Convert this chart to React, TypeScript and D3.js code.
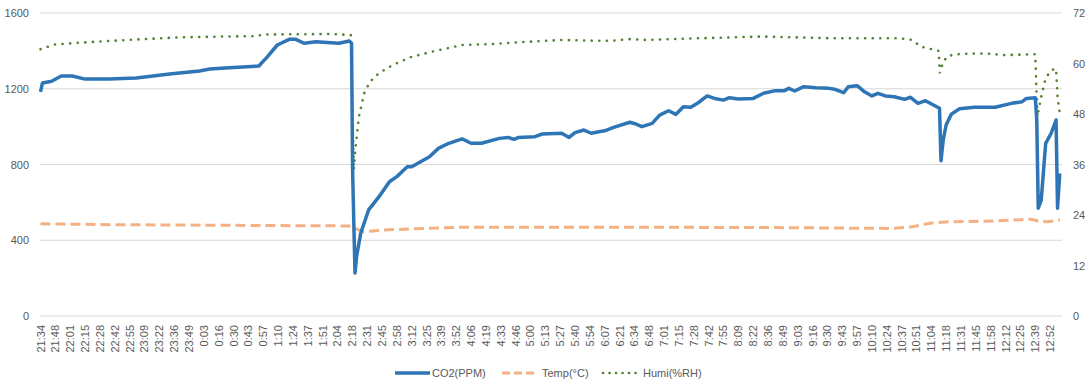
import React from 'react';
import * as d3 from 'd3';

const xLabels = [
  '21:34', '21:48', '22:01', '22:15', '22:28', '22:42', '22:55', '23:09', '23:22', '23:36',
  '23:49', '0:03', '0:16', '0:30', '0:43', '0:57', '1:10', '1:24', '1:37', '1:51',
  '2:04', '2:18', '2:31', '2:45', '2:58', '3:12', '3:25', '3:39', '3:52', '4:06',
  '4:19', '4:33', '4:46', '5:00', '5:13', '5:27', '5:40', '5:54', '6:07', '6:21',
  '6:34', '6:48', '7:01', '7:15', '7:28', '7:42', '7:55', '8:09', '8:22', '8:36',
  '8:49', '9:03', '9:16', '9:30', '9:43', '9:57', '10:10', '10:24', '10:37', '10:51',
  '11:04', '11:18', '11:31', '11:45', '11:58', '12:12', '12:25', '12:39', '12:52',
];

const leftTicks = [0, 400, 800, 1200, 1600];
const rightTicks = [0, 12, 24, 36, 48, 60, 72];

// [position on category axis (fractional label index), value]
const co2: [number, number][] = [
  [0, 1183], [0.13, 1230], [0.75, 1240], [1.4, 1267], [2.15, 1267], [3, 1251], [4.6, 1251],
  [6.45, 1257], [8.7, 1278], [10.7, 1294], [11.4, 1304], [12.7, 1311], [14.7, 1320], [15.2, 1362],
  [15.95, 1431], [16.75, 1461], [17.2, 1461], [17.75, 1440], [18.55, 1448], [20.1, 1440],
  [20.8, 1452], [20.95, 1440], [21.02, 771], [21.18, 227], [21.3, 320], [21.57, 438], [22.1, 560],
  [22.8, 630], [23.5, 709], [24, 736], [24.7, 788], [25, 788], [25.6, 815], [26.2, 841],
  [26.8, 885], [27.5, 912], [28.4, 935], [29, 912], [29.7, 912], [30.9, 938], [31.5, 943],
  [31.9, 933], [32.2, 943], [33.3, 947], [33.8, 961], [35.1, 965], [35.6, 943], [36, 968],
  [36.6, 982], [37.1, 965], [37.6, 973], [38, 978], [38.6, 996], [39.7, 1023], [40.1, 1014],
  [40.5, 1000], [41.2, 1017], [41.7, 1061], [42.3, 1084], [42.8, 1065], [43.3, 1105],
  [43.8, 1102], [44.3, 1126], [44.9, 1162], [45.4, 1149], [46, 1140], [46.4, 1153], [47, 1146],
  [48, 1149], [48.7, 1176], [49.5, 1190], [50.1, 1190], [50.4, 1202], [50.8, 1188],
  [51.4, 1211], [52.2, 1205], [53.1, 1202], [53.5, 1197], [54.1, 1179], [54.4, 1211],
  [55, 1216], [55.5, 1184], [56, 1162], [56.4, 1176], [56.9, 1162], [57.5, 1158], [58.2, 1144],
  [58.6, 1155], [59.1, 1123], [59.6, 1137], [60.55, 1097], [60.65, 820], [60.8, 930],
  [61, 1010], [61.35, 1066], [61.9, 1094], [62.9, 1102], [64.3, 1102], [65.4, 1123],
  [66.1, 1131], [66.4, 1149], [67, 1153], [67.1, 1035], [67.2, 569], [67.4, 612], [67.7, 912],
  [68.07, 965], [68.4, 1035], [68.5, 569], [68.65, 753],
];

const temp: [number, number][] = [
  [0, 21.9], [5, 21.7], [10, 21.6], [15, 21.5], [20.9, 21.4], [21.2, 20.8], [21.75, 20.0],
  [23, 20.4], [24.9, 20.7], [28.4, 21.1], [40, 21.1], [50, 21.0], [57.3, 20.8], [58.7, 21.2],
  [60, 22.1], [61.3, 22.4], [64.5, 22.6], [66.7, 23.0], [67.3, 22.5], [67.8, 22.4], [68.65, 22.8],
];

const humi: [number, number][] = [
  [0, 63.4], [0.5, 64.0], [0.95, 64.5], [2.4, 64.9], [4.85, 65.4], [6.4, 65.7], [9.3, 66.2],
  [12.2, 66.4], [14.5, 66.5], [15, 66.9], [19.5, 67.0], [20.9, 66.8], [21.1, 34.7], [21.2, 39.4],
  [21.35, 44.2], [21.45, 47.4], [21.57, 49.3], [21.8, 52.9], [22.2, 55.7], [22.8, 57.7],
  [23.7, 59.6], [25, 61.6], [26.6, 63.0], [28.4, 64.4], [30.4, 64.6], [32, 65.0], [35.1, 65.6],
  [37.4, 65.4], [38.5, 65.4], [39.6, 65.8], [40.8, 65.6], [44.4, 66.0], [48.6, 66.4],
  [53.4, 66.0], [57.8, 66.0], [58.7, 65.6], [59.3, 64.0], [60.5, 63.0], [60.57, 57.7],
  [60.8, 60.4], [61.1, 61.8], [62, 62.3], [63.6, 62.4], [64.9, 62.0], [67, 62.2], [67.07, 54.5],
  [67.15, 47.4], [67.4, 52.1], [67.7, 56.5], [68.07, 58.4], [68.4, 58.8], [68.5, 52.1],
  [68.65, 48.2],
];

const W = 1090;
const H = 387;
const font = '"Liberation Sans", Arial, sans-serif';
const textColor = '#595959';

export default function App() {
  const x = d3.scaleLinear().domain([0, 68.8]).range([40.5, 1062]);
  const yL = d3.scaleLinear().domain([0, 1600]).range([316, 13]);
  const yR = d3.scaleLinear().domain([0, 72]).range([316, 13]);

  const lineL = d3.line<[number, number]>().x(d => x(d[0])).y(d => yL(d[1]));
  const lineR = d3.line<[number, number]>().x(d => x(d[0])).y(d => yR(d[1]));

  const legendY = 373;

  return (
    <svg width={W} height={H} style={{ position: 'absolute', left: 0, top: 0, background: '#fff' }}>
      <g>
        {leftTicks.map(t => (
          <line key={t} x1={40} x2={1062} y1={yL(t)} y2={yL(t)} stroke="#d9d9d9" strokeWidth={1} />
        ))}
      </g>
      <g fontFamily={font} fontSize={11} fill={textColor}>
        {leftTicks.map(t => (
          <text key={t} x={29} y={yL(t)} textAnchor="end" dominantBaseline="central">{t}</text>
        ))}
        {rightTicks.map(t => (
          <text key={t} x={1073} y={yR(t)} textAnchor="start" dominantBaseline="central">{t}</text>
        ))}
        {xLabels.map((l, i) => (
          <text
            key={i}
            transform={`translate(${x(i)},325) rotate(-90)`}
            textAnchor="end"
            dominantBaseline="central"
          >
            {l}
          </text>
        ))}
      </g>
      <path d={lineR(temp) ?? ''} fill="none" stroke="#f4b183" strokeWidth={3} strokeDasharray="10 5" />
      <path
        d={lineR(humi) ?? ''}
        fill="none"
        stroke="#548235"
        strokeWidth={2.6}
        strokeDasharray="0.1 7.5"
        strokeLinecap="round"
      />
      <path d={lineL(co2) ?? ''} fill="none" stroke="#2e75b6" strokeWidth={3.5} strokeLinejoin="round" />

      <g fontFamily={font} fontSize={11} fill={textColor}>
        <line x1={395} x2={430} y1={legendY} y2={legendY} stroke="#2e75b6" strokeWidth={3.5} />
        <text x={432} y={legendY} dominantBaseline="central">CO2(PPM)</text>
        <line x1={502} x2={535} y1={legendY} y2={legendY} stroke="#f4b183" strokeWidth={3} strokeDasharray="8 4" />
        <text x={542} y={legendY} dominantBaseline="central">Temp(°C)</text>
        <line
          x1={603}
          x2={636}
          y1={legendY}
          y2={legendY}
          stroke="#548235"
          strokeWidth={2.6}
          strokeDasharray="0.1 6.4"
          strokeLinecap="round"
        />
        <text x={643} y={legendY} dominantBaseline="central">Humi(%RH)</text>
      </g>
    </svg>
  );
}
